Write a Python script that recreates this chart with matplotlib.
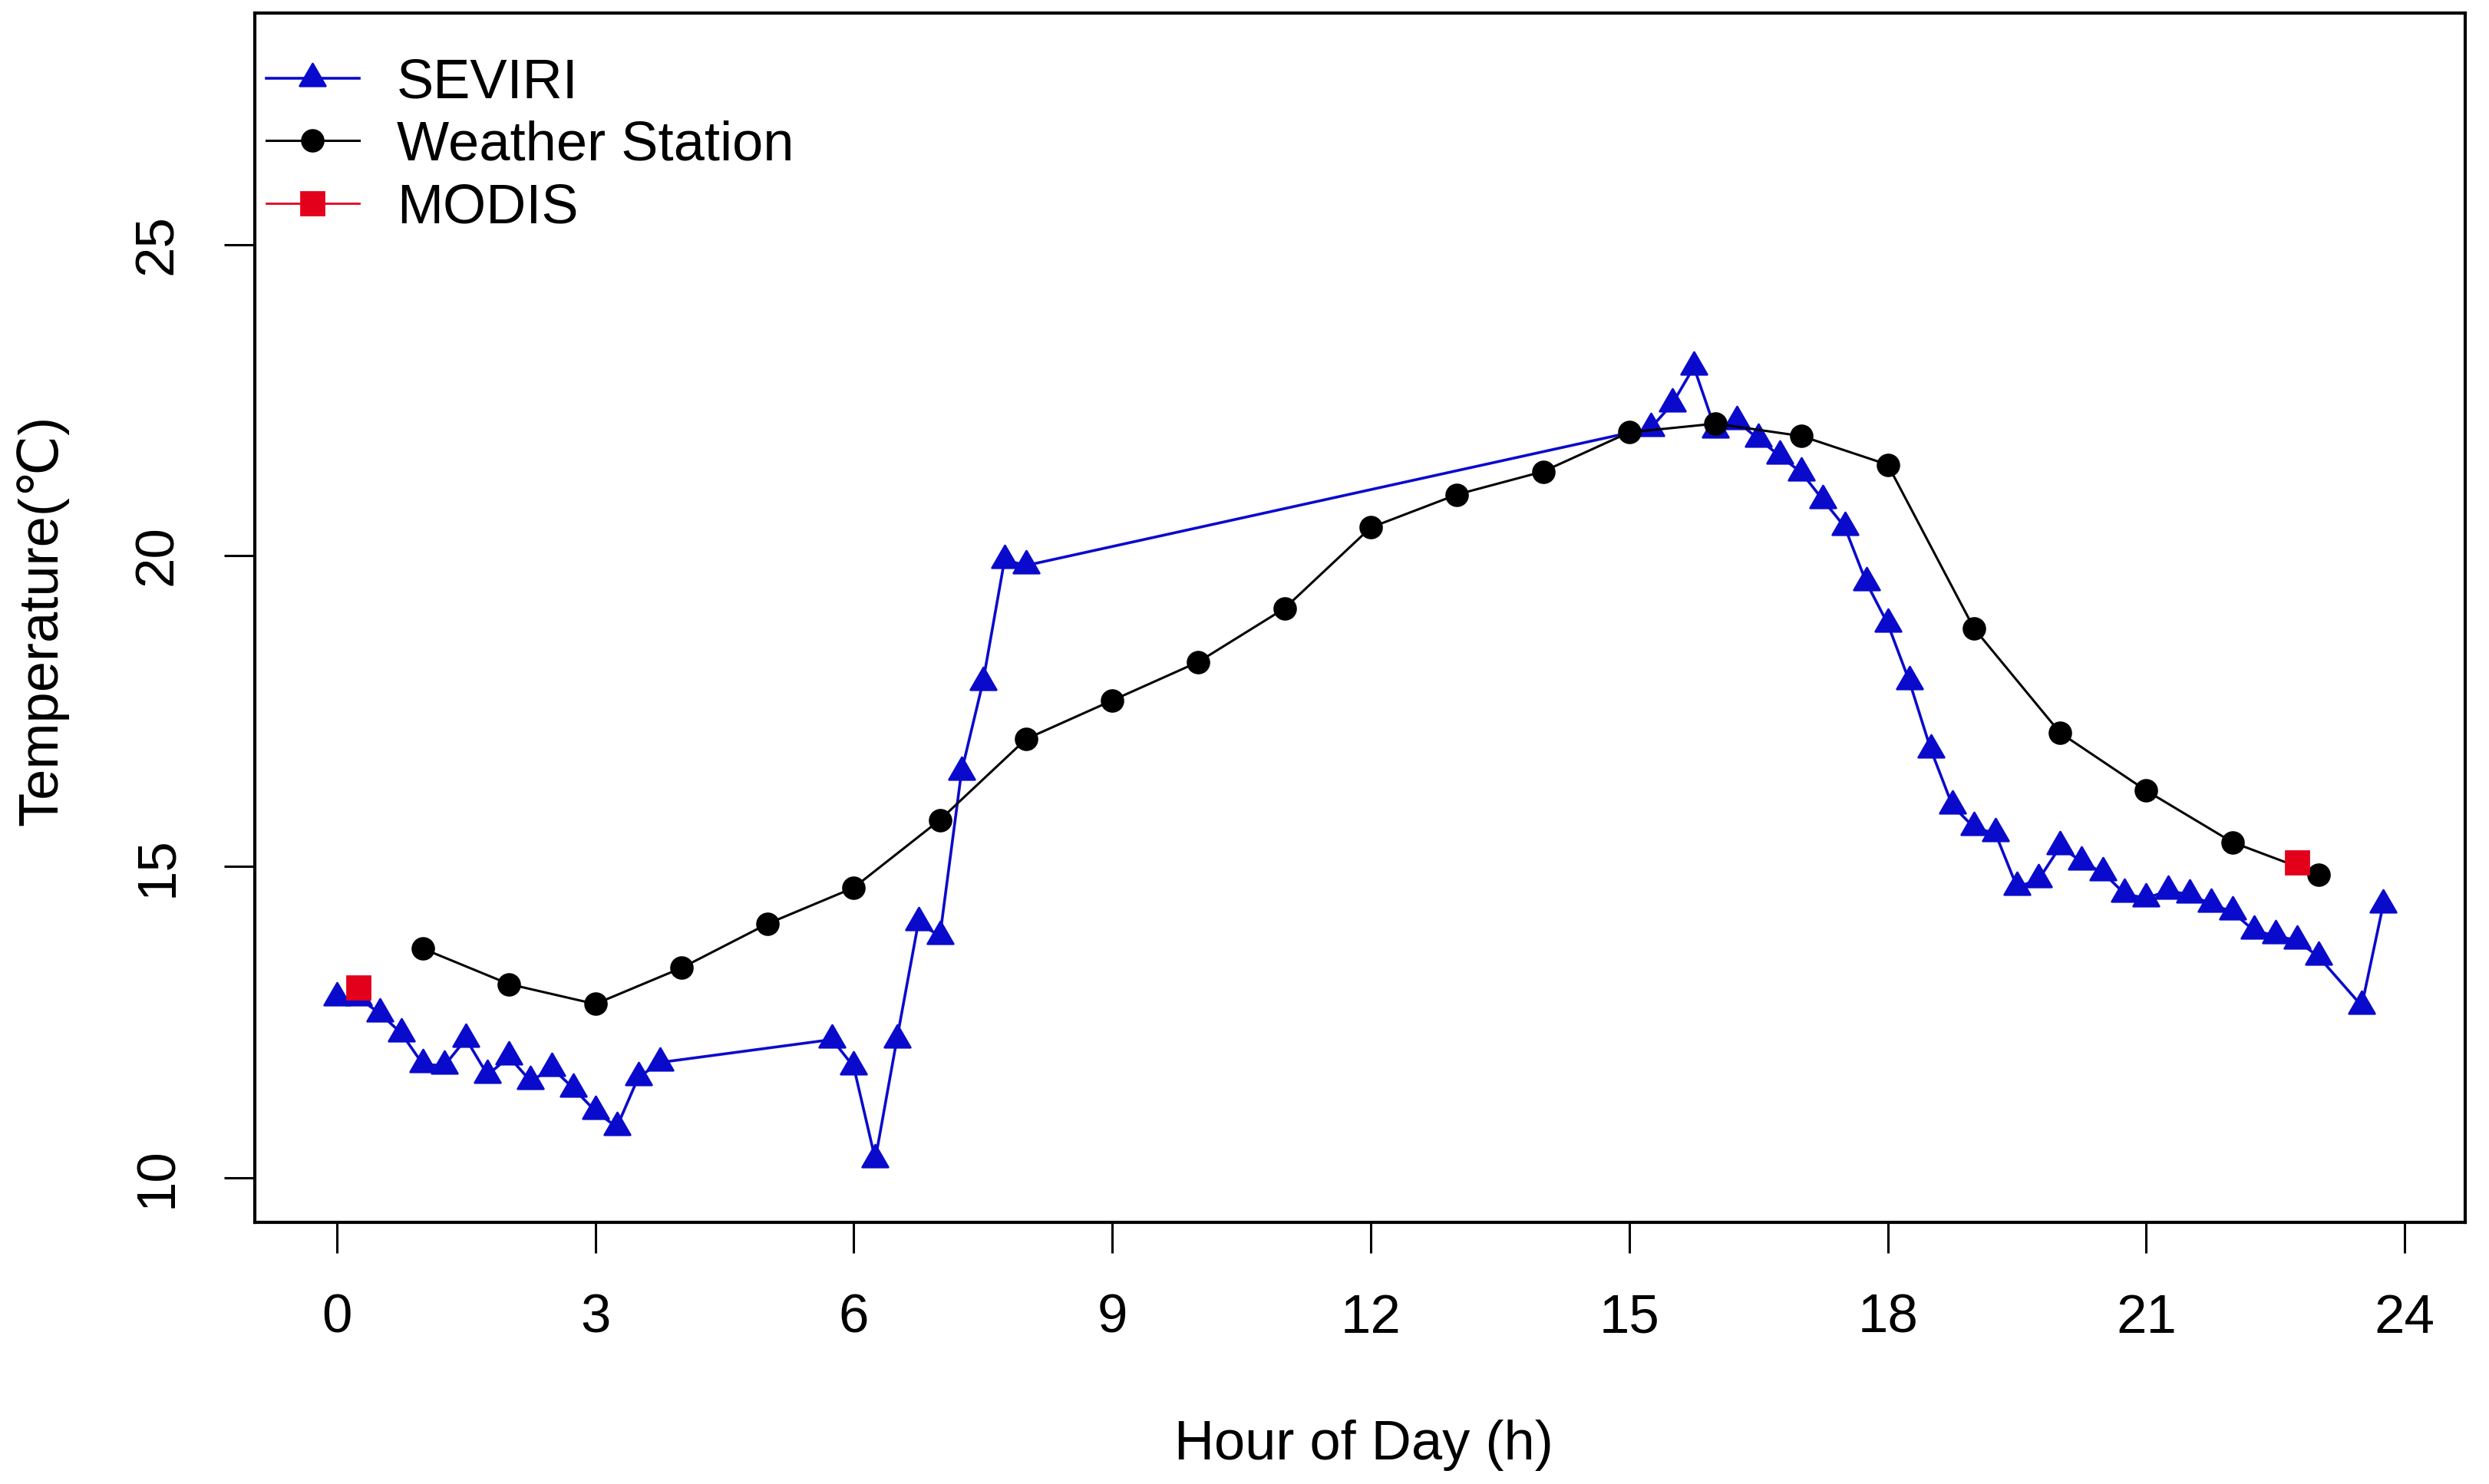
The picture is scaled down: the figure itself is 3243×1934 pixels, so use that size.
import numpy as np
import matplotlib.pyplot as plt
from matplotlib.path import Path
from matplotlib.lines import Line2D

plt.rcParams['font.family'] = ['Liberation Sans', 'DejaVu Sans']

# SEVIRI (15 min slots, gaps where no data)
seviri_h = [0, 0.25, 0.5, 0.75, 1.0, 1.25, 1.5, 1.75, 2.0, 2.25, 2.5, 2.75, 3.0, 3.25, 3.5, 3.75,
            5.75, 6.0, 6.25, 6.5, 6.75, 7.0, 7.25, 7.5, 7.75, 8.0,
            15.25, 15.5, 15.75, 16.0, 16.25, 16.5, 16.75, 17.0, 17.25, 17.5, 17.75, 18.0,
            18.25, 18.5, 18.75, 19.0, 19.25, 19.5, 19.75, 20.0, 20.25, 20.5, 20.75, 21.0,
            21.25, 21.5, 21.75, 22.0, 22.25, 22.5, 22.75, 23.0, 23.5, 23.75]
seviri_t = [12.89, 12.89, 12.64, 12.32, 11.82, 11.80, 12.23, 11.65, 11.94, 11.55, 11.76, 11.43, 11.07, 10.81, 11.61, 11.85,
            12.22, 11.78, 10.29, 12.22, 14.10, 13.88, 16.52, 17.97, 19.93, 19.84,
            22.05, 22.44, 23.03, 22.02, 22.16, 21.87, 21.60, 21.33, 20.89, 20.46, 19.57, 18.90,
            17.98, 16.88, 15.98, 15.63, 15.53, 14.67, 14.79, 15.32, 15.08, 14.90, 14.56, 14.49,
            14.61, 14.55, 14.40, 14.27, 13.97, 13.89, 13.81, 13.55, 12.76, 14.39]

# weather station, hourly
station_h = list(range(1, 24))
station_t = [13.68, 13.11, 12.79, 13.37, 14.08, 14.66, 15.75, 17.05, 17.67, 18.29, 19.15, 20.45,
             20.98, 21.35, 21.98, 22.12, 21.92, 21.46, 18.83, 17.15, 16.22, 15.39, 14.87]

# MODIS overpasses
modis_h = [0.25, 22.75]
modis_t = [13.05, 15.07]

x_ticks = [0, 3, 6, 9, 12, 15, 18, 21, 24]
y_ticks = [10, 15, 20, 25]

blue = '#0A0ACC'
red = '#E3001B'

# R style triangle (point at centroid)
tri = Path([(0, 1), (-0.866, -0.5), (0.866, -0.5), (0, 1)],
           [Path.MOVETO, Path.LINETO, Path.LINETO, Path.CLOSEPOLY])

fig = plt.figure(figsize=(16.215, 9.67), dpi=200)
ax = fig.add_axes([0.1024, 0.1763, 0.888, 0.8149])

ax.plot(seviri_h, seviri_t, color=blue, lw=1.3, marker=tri, ms=14, mec=blue, mfc=blue, zorder=2)
ax.plot(station_h, station_t, color='black', lw=1.1, marker='o', ms=10, zorder=3)
ax.plot(modis_h, modis_t, ls='none', marker='s', ms=11, color=red, zorder=4)

ax.set_xlim(-0.95, 24.70)
ax.set_ylim(9.28, 28.72)
ax.set_xticks(x_ticks)
ax.set_yticks(y_ticks)
ax.tick_params(length=14.4, width=1.1, pad=19, labelsize=25.5)
for lab in ax.get_yticklabels():
    lab.set_rotation(90)
    lab.set_va('center')
for sp in ax.spines.values():
    sp.set_linewidth(1.5)

fig.text(0.548, 0.009, 'Hour of Day (h)', fontsize=26, ha='center', va='bottom')
fig.text(0.017, 0.582, 'Temperature(℃)', fontsize=26, rotation=90, ha='center', va='center')

handles = [Line2D([], [], color=blue, lw=1.3, marker=tri, ms=14, mfc=blue, mec=blue),
           Line2D([], [], color='black', lw=1.1, marker='o', ms=10),
           Line2D([], [], color=red, lw=1.0, marker='s', ms=11)]
ax.legend(handles, ['SEVIRI', 'Weather Station', 'MODIS'], loc='upper left',
          bbox_to_anchor=(0.0052, 0.963), frameon=False, fontsize=26,
          borderpad=0, borderaxespad=0, handlelength=1.67, handletextpad=0.68,
          labelspacing=0.2)

fig.savefig('out.png', dpi=200)
